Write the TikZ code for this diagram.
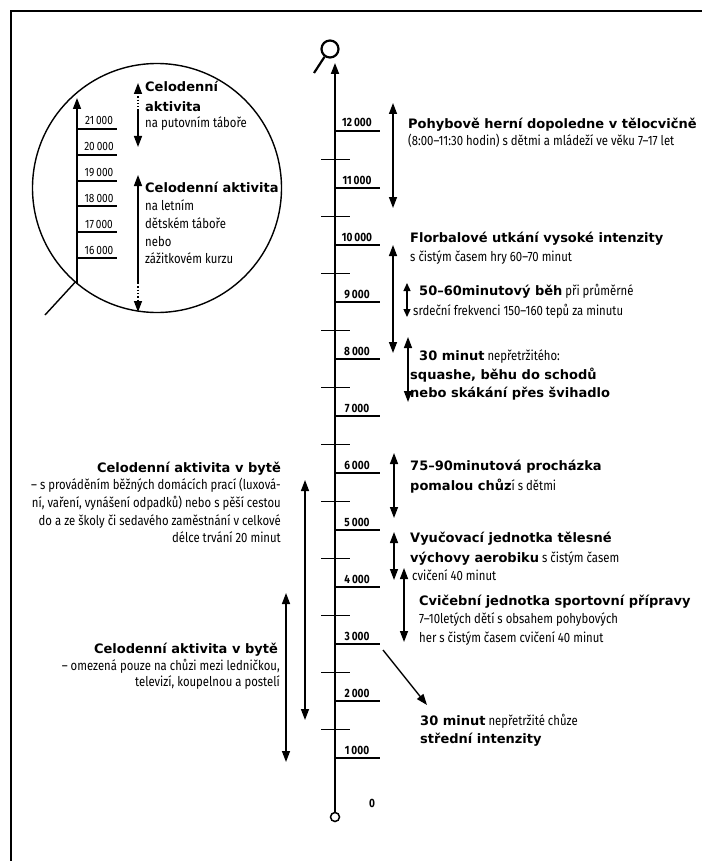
\documentclass[tikz,border=0pt]{standalone}
\usepackage{fontspec}
\setmainfont{Fira Sans}
\newfontfamily\hdfont{DejaVu Sans}
\newfontfamily\cdfont{Fira Sans}[FakeStretch=0.84]
\usetikzlibrary{arrows.meta}
\newcommand{\hdtxt}[1]{{\hdfont\bfseries\fontsize{13}{15}\selectfont #1}}
\tikzset{
 hd/.style={font=\hdfont\bfseries\fontsize{13}{15}\selectfont, inner sep=0pt, anchor=base west},
 bd/.style={font=\cdfont\fontsize{13.5}{15}\selectfont, inner sep=0pt, anchor=base west},
 hdr/.style={hd, anchor=base east},
 bdr/.style={bd, anchor=base east},
 tickline/.style={line width=1.2pt},
 ticklbl/.style={font=\cdfont\bfseries\fontsize{12}{13}\selectfont, inner sep=0pt, anchor=base},
 itlbl/.style={font=\cdfont\fontsize{12}{13}\selectfont, inner sep=0pt, anchor=base},
 rng/.style={line width=1.4pt, {Triangle[length=11pt,width=8pt]}-{Triangle[length=11pt,width=8pt]}},
 rngs/.style={line width=1.3pt, {Triangle[length=8pt,width=7pt]}-{Triangle[length=8pt,width=7pt]}},
 onearr/.style={line width=1.4pt, -{Triangle[length=11pt,width=8pt]}},
}
\begin{document}
\begin{tikzpicture}[x=1pt,y=-1pt]
\useasboundingbox (0,0) rectangle (702,861);
\fill[white] (0,0) rectangle (702,861);
\draw[line width=2pt] (11,861) -- (11,11) -- (702,11);

% ---------- main axis ----------
\node[circle,draw,line width=1.5pt,minimum size=9pt,inner sep=0pt] (zero) at (335,817) {};
\coordinate (axtop) at (335,63);
\draw[onearr,line width=1.8pt] (zero.north) -- (axtop);
\node[circle,draw,line width=2.2pt,minimum size=17pt,inner sep=0pt] (mag) at (330,49) {};
\coordinate (maghandle) at (314,73);
\draw[line width=2.2pt] (mag.235) -- (maghandle);

\foreach \v in {1,...,12} {
  \coordinate (tl\v) at (335,{815-57*\v});
  \coordinate (tr\v) at (380,{815-57*\v});
  \draw[tickline] (tl\v) -- (tr\v);
  \node[ticklbl] (tn\v) at (357,{811-57*\v}) {\v\,000};
}
\foreach \v in {1.5,2.5,...,11.5} {
  \draw[tickline] (321,{815-57*\v}) -- (350,{815-57*\v});
}
\node[ticklbl] (tn0) at (372,807) {0};

% ---------- right arrows ----------
\coordinate (a1t) at (393,103); \coordinate (a1b) at (393,208); \draw[rng] (a1t) -- (a1b);
\coordinate (a2t) at (393,245); \coordinate (a2b) at (393,353); \draw[rng] (a2t) -- (a2b);
\coordinate (a3t) at (407,283); \coordinate (a3b) at (407,317); \draw[rngs] (a3t) -- (a3b);
\coordinate (a4t) at (408,337); \coordinate (a4b) at (408,402); \draw[rng] (a4t) -- (a4b);
\coordinate (a5t) at (394,453); \coordinate (a5b) at (394,518); \draw[rng] (a5t) -- (a5b);
\coordinate (a6t) at (394,532); \coordinate (a6b) at (394,580); \draw[rng] (a6t) -- (a6b);
\coordinate (a7t) at (404,568); \coordinate (a7b) at (404,642); \draw[rng] (a7t) -- (a7b);
\coordinate (dg1) at (383,650); \coordinate (dg2) at (427,705); \draw[onearr] (dg1) -- (dg2);

% ---------- right texts ----------
\node[hd] (t1a) at (408,129) {Pohybově herní dopoledne v tělocvičně};
\node[bd] (t1b) at (408,146) {(8:00–11:30 hodin) s dětmi a mládeží ve věku 7–17 let};
\node[hd] (t2a) at (410,242) {Florbalové utkání vysoké intenzity};
\node[bd] (t2b) at (410,261) {s čistým časem hry 60–70 minut};
\node[bd] (t3a) at (419,295) {\hdtxt{50–60minutový běh} při průměrné};
\node[bd] (t3b) at (413,315) {srdeční frekvenci 150–160 tepů za minutu};
\node[bd] (t4a) at (419,360) {\hdtxt{30 minut} nepřetržitého:};
\node[hd] (t4b) at (410,379) {squashe, běhu do schodů};
\node[hd] (t4c) at (410,397) {nebo skákání přes švihadlo};
\node[hd] (t5a) at (410,470) {75–90minutová procházka};
\node[bd] (t5b) at (410,490) {\hdtxt{pomalou chůz}í s dětmi};
\node[hd] (t6a) at (410,542) {Vyučovací jednotka tělesné};
\node[bd] (t6b) at (410,562) {\hdtxt{výchovy aerobiku} s čistým časem};
\node[bd] (t6c) at (412,580) {cvičení 40 minut};
\node[hd] (t7a) at (419,605) {Cvičební jednotka sportovní přípravy};
\node[bd] (t7b) at (419,623) {7–10letých dětí s obsahem pohybových};
\node[bd] (t7c) at (419,642) {her s čistým časem cvičení 40 minut};
\node[bd] (t8a) at (420,725) {\hdtxt{30 minut} nepřetržité chůze};
\node[hd] (t8b) at (420,743) {střední intenzity};

% ---------- left arrows and texts ----------
\coordinate (l1t) at (305,480); \coordinate (l1b) at (305,720); \draw[rng] (l1t) -- (l1b);
\coordinate (l2t) at (286,593); \coordinate (l2b) at (286,762); \draw[rng] (l2t) -- (l2b);

\node[hdr] (p1a) at (281,472) {Celodenní aktivita v bytě};
\node[bdr] (p1b) at (281,489) {– s prováděním běžných domácích prací (luxová-};
\node[bdr] (p1c) at (281,507) {ní, vaření, vynášení odpadků) nebo s pěší cestou};
\node[bdr] (p1d) at (281,525) {do a ze školy či sedavého zaměstnání v celkové};
\node[bdr] (p1e) at (281,542) {délce trvání 20 minut};
\node[hdr] (p2a) at (278,653) {Celodenní aktivita v bytě};
\node[bdr] (p2b) at (280,670) {– omezená pouze na chůzi mezi ledničkou,};
\node[bdr] (p2c) at (280,686) {televizí, koupelnou a postelí};

% ---------- magnifier inset ----------
\node[circle,draw,line width=1.4pt,minimum size=249pt,inner sep=0pt] (lens) at (157,188) {};
\coordinate (ibot) at (77,284); \coordinate (itop) at (77,98);
\draw[onearr,line width=1.6pt] (ibot) -- (itop);
\coordinate (hand) at (45,315);
\draw[line width=1.4pt] (lens.229) -- (hand);
\foreach \v/\y in {21/129,20/155,19/181,18/206,17/232,16/258} {
  \draw[tickline] (77,\y) -- (117,\y);
  \node[itlbl] (in\v) at (99,{\y-4}) {\v\,000};
}
\coordinate (ia1t) at (138,83); \coordinate (ia1d) at (138,93);
\coordinate (ia1s) at (138,111); \coordinate (ia1b) at (138,147);
\draw[onearr] (ia1d) -- (ia1t);
\draw[line width=1.3pt,dotted] (ia1d) -- (ia1s);
\draw[onearr] (ia1s) -- (ia1b);
\coordinate (ia2t) at (138,175); \coordinate (ia2s) at (138,283);
\coordinate (ia2d) at (138,300); \coordinate (ia2b) at (138,312);
\draw[onearr] (ia2s) -- (ia2t);
\draw[line width=1.3pt,dotted] (ia2s) -- (ia2d);
\draw[onearr] (ia2d) -- (ia2b);

\node[hd] (i1a) at (145,92) {Celodenní};
\node[hd] (i1b) at (145,112) {aktivita};
\node[bd] (i1c) at (145,128) {na putovním táboře};
\node[hd] (i2a) at (145,192) {Celodenní aktivita};
\node[bd] (i2b) at (145,210) {na letním};
\node[bd] (i2c) at (145,228) {dětském táboře};
\node[bd] (i2d) at (145,246) {nebo};
\node[bd] (i2e) at (145,263) {zážitkovém kurzu};
\end{tikzpicture}
\end{document}
